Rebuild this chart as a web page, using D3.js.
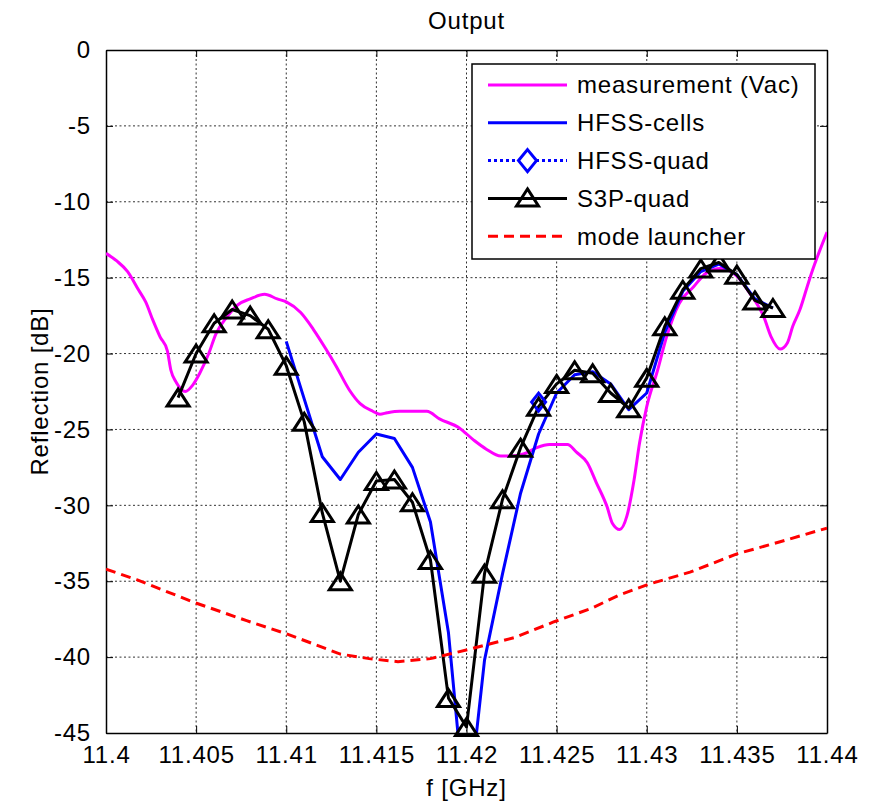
<!DOCTYPE html>
<html>
<head>
<meta charset="utf-8">
<script src="https://cdn.jsdelivr.net/npm/d3@7/dist/d3.min.js"></script>
<style>
  html, body { margin: 0; padding: 0; background: #fff; }
  svg { display: block; font-family: "Liberation Sans", Arial, sans-serif; }
</style>
</head>
<body>
<svg id="chart" width="879" height="804"></svg>
<script>
// ---- data -------------------------------------------------------------
const xTicks = [11.4, 11.405, 11.41, 11.415, 11.42, 11.425, 11.43, 11.435, 11.44];
const xTickLabels = ["11.4", "11.405", "11.41", "11.415", "11.42", "11.425", "11.43", "11.435", "11.44"];
const yTicks = [0, -5, -10, -15, -20, -25, -30, -35, -40, -45];
const yTickLabels = ["0", "-5", "-10", "-15", "-20", "-25", "-30", "-35", "-40", "-45"];

// measurement (Vac)
const measFreq = [11.4000, 11.4006, 11.4012, 11.4018, 11.4022, 11.4026, 11.4030, 11.4034, 11.4036, 11.4039,
  11.4044, 11.4048, 11.4052, 11.4057, 11.4061, 11.4067, 11.4073, 11.4080, 11.4088, 11.4095,
  11.4100, 11.4108, 11.4115, 11.4122, 11.4128, 11.4135, 11.4141, 11.4148, 11.4152, 11.4156,
  11.4163, 11.4178, 11.4185, 11.4196, 11.4204, 11.4211, 11.4219, 11.4225, 11.4232, 11.4239,
  11.4246, 11.4256, 11.4261, 11.4267, 11.4272, 11.4278, 11.4281, 11.4285, 11.4289, 11.4293,
  11.4296, 11.4300, 11.4306, 11.4311, 11.4318, 11.4326, 11.4333, 11.4341, 11.4350, 11.4357,
  11.4365, 11.4369, 11.4374, 11.4378, 11.4381, 11.4385, 11.4389, 11.4392, 11.4396, 11.4400];
const measDb = [-13.4, -13.9, -14.6, -15.8, -16.6, -17.8, -18.9, -19.8, -21.1, -21.9,
  -22.5, -22.1, -21.3, -20.0, -18.7, -17.6, -16.8, -16.4, -16.1, -16.4,
  -16.6, -17.3, -18.4, -19.7, -20.9, -22.4, -23.3, -23.8, -24.0, -23.9,
  -23.8, -23.8, -24.3, -24.9, -25.7, -26.3, -26.75, -26.75, -26.6, -26.2,
  -26.0, -26.0, -26.5, -27.2, -28.5, -30.1, -31.2, -31.6, -30.7, -28.3,
  -25.9, -23.5, -21.1, -18.9, -16.7, -15.6, -14.7, -14.4, -14.9, -16.0,
  -17.6, -18.9, -19.7, -19.3, -18.2, -17.1, -15.6, -14.5, -13.2, -12.0];

// HFSS-cells
const cellsFreq = [11.410, 11.411, 11.412, 11.413, 11.414, 11.415, 11.416, 11.417, 11.418, 11.419,
  11.420, 11.421, 11.422, 11.423, 11.424, 11.425, 11.426, 11.427, 11.428, 11.429,
  11.430, 11.431, 11.432, 11.433, 11.434, 11.435, 11.436, 11.437];
const cellsDb = [-19.2, -23.0, -26.8, -28.3, -26.5, -25.3, -25.6, -27.5, -31.1, -38.4,
  -51.0, -40.2, -34.5, -29.2, -25.3, -22.6, -21.4, -21.2, -22.0, -23.7,
  -22.6, -18.6, -15.9, -14.6, -14.1, -14.8, -16.4, -17.0];

// HFSS-quad
const quadFreq = [11.424];
const quadDb = [-23.2];

// S3P-quad
const s3pFreq = [11.404, 11.405, 11.406, 11.407, 11.408, 11.409, 11.410, 11.411, 11.412, 11.413,
  11.414, 11.415, 11.416, 11.417, 11.418, 11.419, 11.420, 11.421, 11.422, 11.423,
  11.424, 11.425, 11.426, 11.427, 11.428, 11.429, 11.430, 11.431, 11.432, 11.433,
  11.434, 11.435, 11.436, 11.437];
const s3pDb = [-22.9, -20.0, -18.0, -17.1, -17.5, -18.4, -20.8, -24.5, -30.5, -35.0,
  -30.6, -28.4, -28.3, -29.8, -33.6, -42.7, -44.6, -34.5, -29.6, -26.2,
  -23.5, -22.0, -21.1, -21.3, -22.6, -23.6, -21.6, -18.2, -15.8, -14.4,
  -14.0, -14.8, -16.5, -17.0];

// mode launcher
const launchFreq = [11.4000, 11.4017, 11.4049, 11.4078, 11.4101, 11.4130, 11.4146, 11.4162, 11.4180, 11.4201,
  11.4227, 11.4248, 11.4269, 11.4285, 11.4301, 11.4324, 11.4350, 11.4374, 11.4400];
const launchDb = [-34.2, -34.9, -36.4, -37.6, -38.5, -39.8, -40.1, -40.3, -40.1, -39.5,
  -38.7, -37.7, -36.8, -35.9, -35.2, -34.4, -33.2, -32.4, -31.5];

const seriesNames = ["measurement (Vac)", "HFSS-cells", "HFSS-quad", "S3P-quad", "mode launcher"];

// ---- layout -----------------------------------------------------------
const svg = d3.select("#chart");
const pL = 106, pR = 827, pT = 50, pB = 733;
const x = d3.scaleLinear().domain([11.4, 11.44]).range([pL, pR]);
const y = d3.scaleLinear().domain([-45, 0]).range([pB, pT]);
const FONT = 24;
const LS = "0.8px";

const zip = (fs, vs) => fs.map((f, i) => [f, vs[i]]);

svg.append("defs").append("clipPath").attr("id", "plotClip")
  .append("rect").attr("x", pL).attr("y", pT)
  .attr("width", pR - pL).attr("height", pB - pT);

// grid
const grid = svg.append("g");
grid.selectAll("line.gx").data(xTicks.slice(1, -1)).enter().append("line")
  .attr("x1", d => x(d)).attr("x2", d => x(d))
  .attr("y1", pT).attr("y2", pB)
  .attr("stroke", "#333").attr("stroke-width", 1).attr("stroke-dasharray", "2,2.5");
grid.selectAll("line.gy").data(yTicks.slice(1, -1)).enter().append("line")
  .attr("y1", d => y(d)).attr("y2", d => y(d))
  .attr("x1", pL).attr("x2", pR)
  .attr("stroke", "#333").attr("stroke-width", 1).attr("stroke-dasharray", "2,2.5");

// axes with inward ticks on all four sides
const tickLen = 7;
const xAxisB = d3.axisBottom(x).tickValues(xTicks).tickSizeInner(-tickLen).tickSizeOuter(0)
  .tickPadding(tickLen + 6).tickFormat((d, i) => xTickLabels[i]);
const xAxisT = d3.axisTop(x).tickValues(xTicks).tickSizeInner(-tickLen).tickSizeOuter(0).tickFormat("");
const yAxisL = d3.axisLeft(y).tickValues(yTicks).tickSizeInner(-tickLen).tickSizeOuter(0)
  .tickPadding(tickLen + 8).tickFormat((d, i) => yTickLabels[i]);
const yAxisR = d3.axisRight(y).tickValues(yTicks).tickSizeInner(-tickLen).tickSizeOuter(0).tickFormat("");

function styleAxis(g) {
  g.select(".domain").attr("stroke", "#000").attr("stroke-width", 1.5);
  g.selectAll(".tick line").attr("stroke", "#000").attr("stroke-width", 1);
  g.selectAll(".tick text").attr("fill", "#000").style("font-size", FONT + "px")
    .style("font-family", "'Liberation Sans', Arial, sans-serif").style("letter-spacing", LS);
}
svg.append("g").attr("transform", `translate(0,${pB})`).call(xAxisB).call(styleAxis);
svg.append("g").attr("transform", `translate(0,${pT})`).call(xAxisT).call(styleAxis);
svg.append("g").attr("transform", `translate(${pL},0)`).call(yAxisL).call(styleAxis);
svg.append("g").attr("transform", `translate(${pR},0)`).call(yAxisR).call(styleAxis);

// series
const lineGen = d3.line().x(d => x(d[0])).y(d => y(d[1]));
const plot = svg.append("g").attr("clip-path", "url(#plotClip)");

plot.append("path").datum(zip(measFreq, measDb))
  .attr("d", lineGen.curve(d3.curveMonotoneX))
  .attr("fill", "none").attr("stroke", "#ff00ff").attr("stroke-width", 3).attr("stroke-linejoin", "round");

lineGen.curve(d3.curveLinear);
plot.append("path").datum(zip(cellsFreq, cellsDb)).attr("d", lineGen)
  .attr("fill", "none").attr("stroke", "#0000ff").attr("stroke-width", 3).attr("stroke-linejoin", "round");

plot.append("path").datum(zip(quadFreq, quadDb)).attr("d", lineGen)
  .attr("fill", "none").attr("stroke", "#0000ff").attr("stroke-width", 3).attr("stroke-dasharray", "3,3");

const diamond = (cx, cy, w, h) => `M${cx},${cy - h / 2}L${cx + w / 2},${cy}L${cx},${cy + h / 2}L${cx - w / 2},${cy}Z`;
const triangle = (cx, cy, w, h) => `M${cx},${cy - h / 2}L${cx + w / 2},${cy + h / 2}L${cx - w / 2},${cy + h / 2}Z`;

svg.append("g").selectAll("path").data(zip(quadFreq, quadDb)).enter().append("path")
  .attr("d", d => diamond(x(d[0]), y(d[1]), 14, 18))
  .attr("fill", "none").attr("stroke", "#0000ff").attr("stroke-width", 3);

plot.append("path").datum(zip(s3pFreq, s3pDb)).attr("d", lineGen)
  .attr("fill", "none").attr("stroke", "#000").attr("stroke-width", 3).attr("stroke-linejoin", "round");
svg.append("g").selectAll("path").data(zip(s3pFreq, s3pDb)).enter().append("path")
  .attr("d", d => triangle(x(d[0]), y(d[1]), 22, 17))
  .attr("fill", "none").attr("stroke", "#000").attr("stroke-width", 3).attr("stroke-linejoin", "miter");

plot.append("path").datum(zip(launchFreq, launchDb)).attr("d", lineGen)
  .attr("fill", "none").attr("stroke", "#ff0000").attr("stroke-width", 3).attr("stroke-dasharray", "10,6");

// titles
svg.append("text").attr("x", (pL + pR) / 2).attr("y", 29).attr("text-anchor", "middle")
  .style("font-size", FONT + "px").style("letter-spacing", LS).text("Output");
svg.append("text").attr("x", (pL + pR) / 2).attr("y", 796).attr("text-anchor", "middle")
  .style("font-size", FONT + "px").style("letter-spacing", LS).text("f [GHz]");
svg.append("text").attr("transform", `translate(40,${(pT + pB) / 2}) rotate(-90)`)
  .attr("text-anchor", "middle").attr("dy", "0.35em")
  .style("font-size", FONT + "px").style("letter-spacing", LS).text("Reflection [dB]");

// legend
const lg = svg.append("g");
const lx0 = 472, ly0 = 64, lw = 343, lh = 195;
lg.append("rect").attr("x", lx0).attr("y", ly0).attr("width", lw).attr("height", lh)
  .attr("fill", "#fff").attr("stroke", "#000").attr("stroke-width", 1.5);
const rowY = i => 85 + i * 37.8;
const sx1 = 488, sx2 = 567, smid = (sx1 + sx2) / 2;
const styles = [
  { c: "#ff00ff", dash: null },
  { c: "#0000ff", dash: null },
  { c: "#0000ff", dash: "3,3", mark: "diamond" },
  { c: "#000", dash: null, mark: "triangle" },
  { c: "#ff0000", dash: "10,6" }
];
seriesNames.forEach((name, i) => {
  const s = styles[i], cy = rowY(i);
  const ln = lg.append("line").attr("x1", sx1).attr("x2", sx2).attr("y1", cy).attr("y2", cy)
    .attr("stroke", s.c).attr("stroke-width", 3);
  if (s.dash) ln.attr("stroke-dasharray", s.dash);
  if (s.mark === "diamond") {
    lg.append("path").attr("d", diamond(smid, cy, 18, 22)).attr("fill", "#fff")
      .attr("stroke", s.c).attr("stroke-width", 3);
  }
  if (s.mark === "triangle") {
    lg.append("path").attr("d", triangle(smid, cy - 1, 22, 17)).attr("fill", "none")
      .attr("stroke", s.c).attr("stroke-width", 3);
  }
  lg.append("text").attr("x", 577).attr("y", cy).attr("dy", "0.35em")
    .style("font-size", FONT + "px").style("letter-spacing", LS).text(name);
});
</script>
</body>
</html>
